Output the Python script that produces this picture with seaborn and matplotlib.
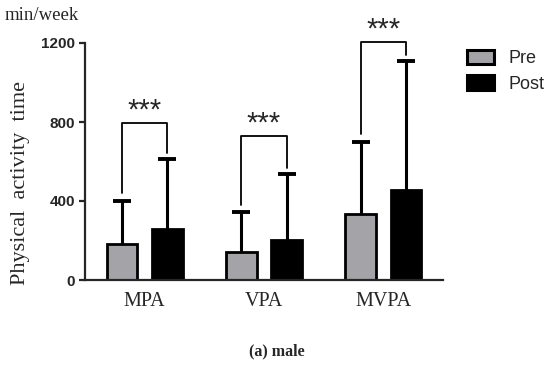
import matplotlib
matplotlib.use("Agg")
import matplotlib.pyplot as plt
import seaborn as sns
import pandas as pd

categories = ["MPA", "VPA", "MVPA"]
groups = ["Pre", "Post"]
pre_mean = [182, 142, 334]
post_mean = [258, 203, 456]
pre_sd = [218, 202, 365]
post_sd = [354, 334, 653]
sig_y = [795, 729, 1206]
sig_text = ["***", "***", "***"]
y_ticks = [0, 400, 800, 1200]

df = pd.DataFrame({
    "activity": categories * 2,
    "group": ["Pre"] * 3 + ["Post"] * 3,
    "minutes": pre_mean + post_mean,
})

sns.set_style("ticks")
plt.rcParams["font.family"] = ["Liberation Sans", "DejaVu Sans"]

fig = plt.figure(figsize=(5.5, 3.79), dpi=100)
ax = fig.add_axes([85 / 550, 1 - 280 / 379, 358 / 550, 237 / 379])

sns.barplot(
    data=df, x="activity", y="minutes", hue="group", order=categories,
    hue_order=groups, palette={"Pre": "#a4a4a8", "Post": "black"},
    edgecolor="black", linewidth=2, width=0.76, gap=0.32,
    errorbar=None, saturation=1, ax=ax,
)

# upward-only error bars: stem + cap on top only
tops = []
for cont, sd in zip(ax.containers, [pre_sd, post_sd]):
    xs = [b.get_x() + b.get_width() / 2 for b in cont]
    hs = [b.get_height() for b in cont]
    ys = [h + s for h, s in zip(hs, sd)]
    ax.vlines(xs, hs, ys, color="black", lw=2.2, zorder=3)
    ax.plot(xs, ys, ls="none", marker="_", ms=12.5, mew=2.8,
            color="black", zorder=3)
    tops.append((xs, ys))

# significance brackets
for i in range(3):
    x1, x2 = tops[0][0][i], tops[1][0][i]
    y1, y2 = tops[0][1][i] + 38, tops[1][1][i] + 30
    ax.plot([x1, x1, x2, x2], [y1, sig_y[i], sig_y[i], y2], color="black",
            lw=1.3, clip_on=False, zorder=4)
    ax.text((x1 + x2) / 2, sig_y[i] - 10, sig_text[i], ha="center",
            va="bottom", fontsize=21, clip_on=False)

ax.set_xlim(-0.5, 2.5)
ax.set_ylim(0, 1200)
ax.set_yticks(y_ticks)
ax.set_xlabel("")
ax.set_ylabel("")
sns.despine(ax=ax)
for s in ["left", "bottom"]:
    ax.spines[s].set_linewidth(1.6)
ax.tick_params(axis="y", length=4.3, width=1.6, pad=3, labelsize=11)
ax.tick_params(axis="x", length=0, pad=9)
for lab in ax.get_yticklabels():
    lab.set_fontweight("bold")
for lab in ax.get_xticklabels():
    lab.set_fontfamily("Liberation Serif")
    lab.set_fontsize(14.5)

leg = ax.legend(loc="upper left", bbox_to_anchor=(467 / 550, 1 - 50 / 379),
                bbox_transform=fig.transFigure, frameon=False, fontsize=13,
                borderpad=0, borderaxespad=0, handlelength=1.5,
                handleheight=0.83, handletextpad=0.8, labelspacing=0.45)
for h in leg.legend_handles:
    h.set_edgecolor("black")
    h.set_linewidth(2.2)

fig.text(5 / 550, 1 - 15 / 379, "min/week", family="Liberation Serif",
         fontsize=13.5, ha="left", va="center")
fig.text(21 / 550, 1 - 183 / 379, "Physical  activity  time",
         family="Liberation Serif", fontsize=16, rotation=90,
         ha="center", va="center")
fig.text(277 / 550, 1 - 351 / 379, "(a) male", family="Liberation Serif",
         fontweight="bold", fontsize=11.5, ha="center", va="center")

fig.savefig("out.png", dpi=100)
